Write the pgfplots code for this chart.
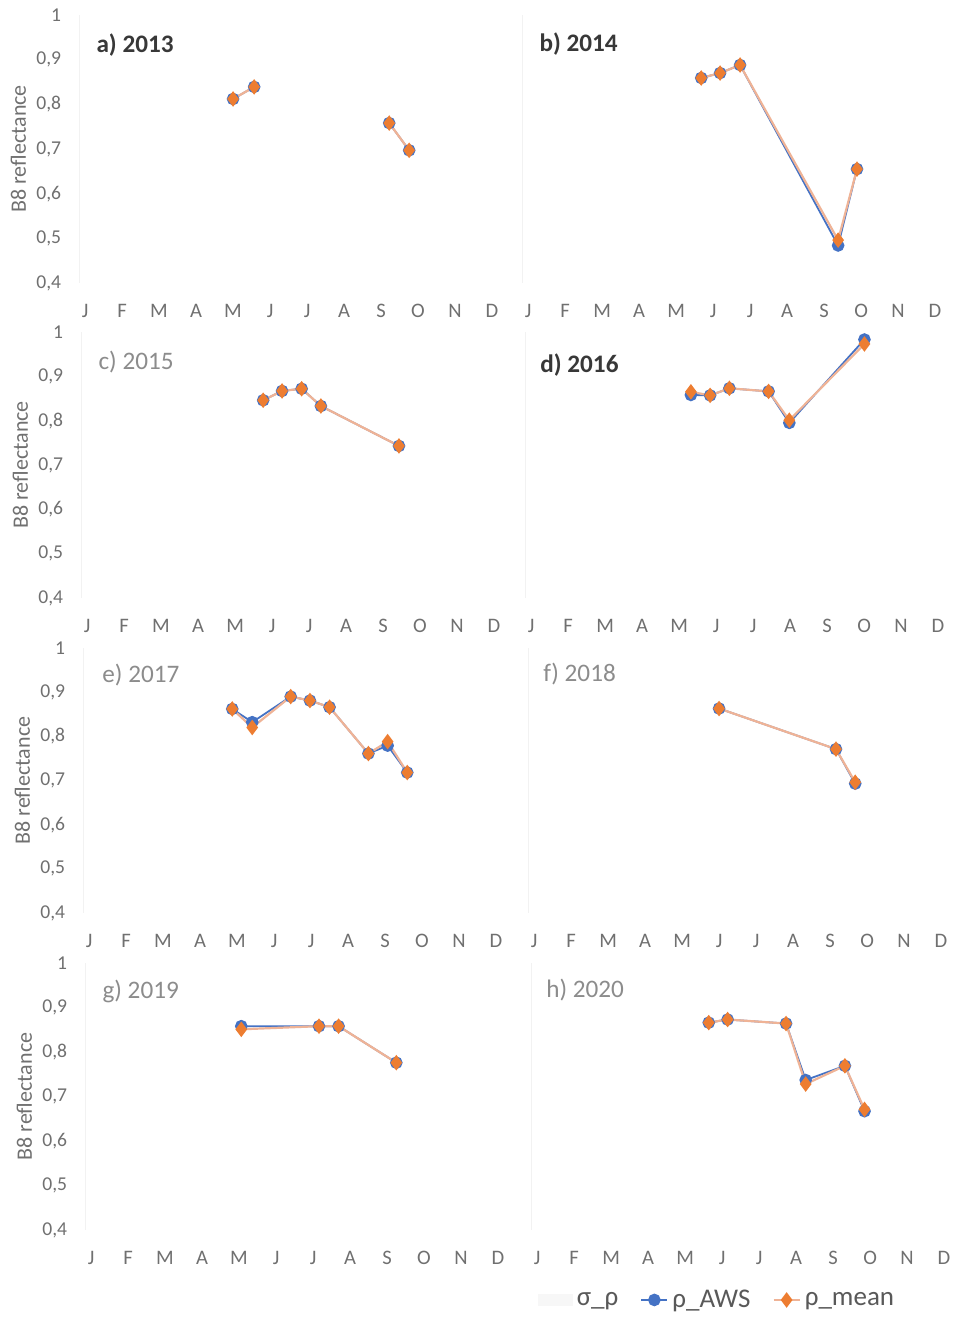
\documentclass[border=0pt]{standalone}
\usepackage{fontspec}
\setmainfont{Carlito}
\usepackage{pgfplots}
\usepackage{pgfplotstable}
\pgfplotsset{compat=1.18}

\definecolor{awsblue}{HTML}{4472C4}
\definecolor{meanorange}{HTML}{ED7D31}
\definecolor{meanline}{HTML}{EFB396}
\definecolor{tickgray}{HTML}{707070}
\definecolor{titledark}{HTML}{383838}
\definecolor{titlelight}{HTML}{8C8C8C}
\definecolor{leggray}{HTML}{595959}

\pgfplotstableread{
m a b
4.00 0.812 0.812
4.57 0.839 0.839
nan nan nan
8.22 0.758 0.758
8.76 0.697 0.697
}\tblA
\pgfplotstableread{
m a b
4.68 0.859 0.859
5.19 0.870 0.870
5.73 0.888 0.888
8.38 0.484 0.496
8.89 0.655 0.655
}\tblB
\pgfplotstableread{
m a b
4.76 0.846 0.846
5.27 0.867 0.867
5.80 0.872 0.872
6.32 0.833 0.833
8.43 0.743 0.743
}\tblC
\pgfplotstableread{
m a b
4.32 0.858 0.865
4.84 0.857 0.857
5.36 0.873 0.873
6.42 0.866 0.866
6.98 0.795 0.801
9.01 0.983 0.973
}\tblD
\pgfplotstableread{
m a b
3.87 0.862 0.862
4.41 0.832 0.820
5.45 0.890 0.890
5.97 0.881 0.881
6.50 0.866 0.866
7.55 0.761 0.761
8.07 0.779 0.788
8.60 0.718 0.718
}\tblE
\pgfplotstableread{
m a b
5.00 0.863 0.863
8.16 0.771 0.771
8.68 0.693 0.696
}\tblF
\pgfplotstableread{
m a b
4.06 0.858 0.851
6.16 0.858 0.858
6.69 0.858 0.858
8.25 0.776 0.776
}\tblG
\pgfplotstableread{
m a b
4.64 0.866 0.866
5.15 0.873 0.873
6.73 0.864 0.864
7.26 0.737 0.728
8.32 0.769 0.769
8.85 0.667 0.671
}\tblH

\tikzset{ttl/.style={anchor=west, font=\fontsize{12.6}{14}\selectfont, inner sep=0pt},
         ttlb/.style={anchor=west, font=\fontsize{12.6}{14}\selectfont\bfseries, inner sep=0pt}}

\pgfplotsset{
  panel/.style={
    scale only axis,
    anchor=south west,
    width=211.83pt,
    xmin=-0.15, xmax=11.3,
    ymin=0.4, ymax=1,
    unbounded coords=jump,
    xtick={0,...,11},
    xticklabels={J,F,M,A,M,J,J,A,S,O,N,D},
    ytick={0.4,0.5,0.6,0.7,0.8,0.9,1},
    axis x line*=bottom,
    axis y line*=left,
    x axis line style={draw=none},
    y axis line style={draw=black!5, line width=0.8pt},
    tick style={draw=none},
    xticklabel style={anchor=center, yshift=-13.75pt, font=\fontsize{10.3}{12}\selectfont, text=tickgray},
    yticklabel style={anchor=east, inner sep=0pt, xshift=-9pt, font=\fontsize{9.8}{11}\selectfont, text=tickgray,
      /pgf/number format/.cd, fixed, precision=1, use comma, assume math mode=true},
    ylabel style={at={(axis description cs:0,0.5)}, anchor=center, yshift=30.5pt, font=\fontsize{11}{13}\selectfont, text=tickgray},
    clip=false,
  },
  rightpanel/.style={panel, yticklabels={}},
  aws/.style={color=awsblue, line width=0.9pt, mark=*, mark size=2.7pt, mark options={fill=awsblue, draw=awsblue}},
  mean/.style={color=meanline, line width=1.1pt, mark=diamond*, mark size=3.0pt, mark options={fill=meanorange, draw=meanorange}},
}

\begin{document}
\begin{tikzpicture}
\path[use as bounding box] (0pt,0pt) rectangle (478pt,660.5pt);

% Row 1
\begin{axis}[panel, at={(39.75pt,519pt)}, height=134pt, ylabel={B8 reflectance}]
\addplot[aws] table[x=m,y=a]{\tblA};
\addplot[mean] table[x=m,y=b]{\tblA};
\node[ttlb, text=titledark] at (axis cs:0.3,0.933) {a) 2013};
\end{axis}
\begin{axis}[rightpanel, at={(261.25pt,519pt)}, height=134pt]
\addplot[aws] table[x=m,y=a]{\tblB};
\addplot[mean] table[x=m,y=b]{\tblB};
\node[ttlb, text=titledark] at (axis cs:0.3,0.935) {b) 2014};
\end{axis}

% Row 2
\begin{axis}[panel, at={(40.75pt,361.5pt)}, height=133pt, ylabel={B8 reflectance}]
\addplot[aws] table[x=m,y=a]{\tblC};
\addplot[mean] table[x=m,y=b]{\tblC};
\node[ttl, text=titlelight] at (axis cs:0.3,0.932) {c) 2015};
\end{axis}
\begin{axis}[rightpanel, at={(262.75pt,361.5pt)}, height=133pt]
\addplot[aws] table[x=m,y=a]{\tblD};
\addplot[mean] table[x=m,y=b]{\tblD};
\node[ttlb, text=titledark] at (axis cs:0.24,0.926) {d) 2016};
\end{axis}

% Row 3
\begin{axis}[panel, at={(41.75pt,204pt)}, height=132.5pt, ylabel={B8 reflectance}]
\addplot[aws] table[x=m,y=a]{\tblE};
\addplot[mean] table[x=m,y=b]{\tblE};
\node[ttl, text=titlelight] at (axis cs:0.35,0.939) {e) 2017};
\end{axis}
\begin{axis}[rightpanel, at={(264.25pt,204pt)}, height=132.5pt]
\addplot[aws] table[x=m,y=a]{\tblF};
\addplot[mean] table[x=m,y=b]{\tblF};
\node[ttl, text=titlelight] at (axis cs:0.24,0.941) {f) 2018};
\end{axis}

% Row 4
\begin{axis}[panel, at={(42.75pt,45.5pt)}, height=133.5pt, ylabel={B8 reflectance}]
\addplot[aws] table[x=m,y=a]{\tblG};
\addplot[mean] table[x=m,y=b]{\tblG};
\node[ttl, text=titlelight] at (axis cs:0.3,0.935) {g) 2019};
\end{axis}
\begin{axis}[rightpanel, at={(265.75pt,45.5pt)}, height=133.5pt,
  legend columns=3,
  legend image code/.code={\draw[mark repeat=2, mark phase=2] plot coordinates {(0cm,0cm) (0.23cm,0cm) (0.46cm,0cm)};},
  legend style={at={(axis description cs:0.0,-0.262)}, anchor=west, draw=none, fill=none,
    font=\fontsize{13.5}{15}\selectfont, text=leggray,
    /tikz/every even column/.append style={column sep=9pt}},
  ]
\addlegendimage{area legend, fill=black!3, draw=black!3}
\addlegendentry{σ\_ρ}
\addplot[aws] table[x=m,y=a]{\tblH};
\addlegendentry{ρ\_AWS}
\addplot[mean] table[x=m,y=b]{\tblH};
\addlegendentry{ρ\_mean}
\node[ttl, text=titlelight] at (axis cs:0.24,0.939) {h) 2020};
\end{axis}
\end{tikzpicture}
\end{document}
